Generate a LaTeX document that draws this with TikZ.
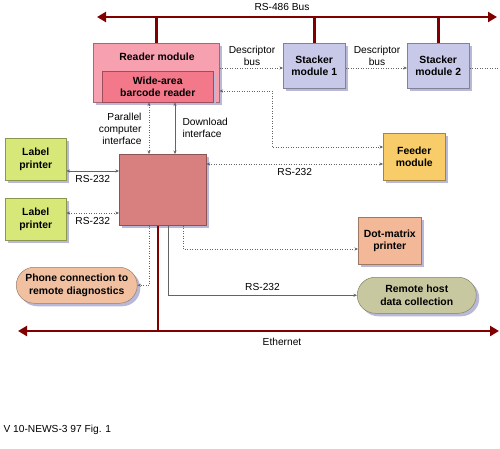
\documentclass[tikz,border=0pt]{standalone}
\usepackage{fontspec}
\setmainfont{Liberation Sans}
\usepackage{tikz}
\usetikzlibrary{arrows.meta,shadows}
\definecolor{busred}{RGB}{128,0,0}
\definecolor{shade}{RGB}{184,184,216}
\definecolor{readerpink}{RGB}{247,161,176}
\definecolor{barcodepink}{RGB}{242,120,138}
\definecolor{stackerblue}{RGB}{200,200,232}
\definecolor{feederyellow}{RGB}{248,204,104}
\definecolor{hostred}{RGB}{216,128,128}
\definecolor{labelgreen}{RGB}{216,232,120}
\definecolor{phonepeach}{RGB}{240,192,160}
\definecolor{dotpeach}{RGB}{242,184,152}
\definecolor{remoteolive}{RGB}{200,200,160}
\definecolor{linkgrey}{RGB}{100,100,100}

\begin{document}
\begin{tikzpicture}[x=1pt, y=-1pt, >={Stealth[length=3.5pt,width=3pt]},
    font=\fontsize{10.2}{12}\selectfont,
    modbox/.style={draw=#1!65!black, fill=#1, line width=.5pt, anchor=north west,
        inner sep=1pt, align=center, font=\fontsize{10.4}{12.5}\selectfont\bfseries,
        drop shadow={shadow xshift=3pt, shadow yshift=-3pt, fill=shade, opacity=1}},
    bus/.style={draw=busred, line width=2.6pt,
        {Triangle[length=9pt,width=10pt]}-{Triangle[length=9pt,width=10pt]}},
    drop/.style={draw=busred, line width=2.6pt},
    dotlink/.style={draw=linkgrey, line width=.5pt, dotted},
    plainlink/.style={draw=linkgrey, line width=.4pt}]

  \fill[white] (0,0) rectangle (500,448);
  \useasboundingbox (0,0) rectangle (500,448);

  \coordinate (rsL) at (97,17);
  \coordinate (rsR) at (497,17);
  \coordinate (ethL) at (18,331);
  \coordinate (ethR) at (499,331);
  \coordinate (dbus) at (0,68);
  \coordinate (dbusend) at (500,68);
  \coordinate (fdbend) at (272,91);
  \coordinate (fdrow) at (0,147);
  \coordinate (rsfdrow) at (0,164);
  \coordinate (lprowA) at (0,171);
  \coordinate (lprowB) at (0,213);
  \coordinate (dmrow) at (0,249);
  \coordinate (pcol) at (149,0);
  \coordinate (dcol) at (175,0);
  \coordinate (ecol) at (158,0);
  \coordinate (rcol) at (168,0);
  \coordinate (mcol) at (183,0);

  \node[modbox=readerpink, minimum width=126pt, minimum height=59pt] (reader) at (93,43) {};
  \node[modbox=barcodepink, minimum width=111pt, minimum height=31pt, drop shadow={opacity=0}] (barcode) at (102,71) {Wide-area\\barcode reader};
  \node[font=\fontsize{10.4}{12}\selectfont\bfseries] (readertitle) at (157,57) {Reader module};
  \node[modbox=stackerblue, minimum width=62pt, minimum height=45pt] (stackA) at (283,43) {Stacker\\module 1};
  \node[modbox=stackerblue, minimum width=62pt, minimum height=45pt] (stackB) at (407,43) {Stacker\\module 2};
  \node[modbox=feederyellow, minimum width=62pt, minimum height=47pt] (feeder) at (383,133) {Feeder\\module};
  \node[modbox=hostred, minimum width=87pt, minimum height=71pt] (comp) at (119,154) {};
  \node[modbox=labelgreen, minimum width=61pt, minimum height=42pt] (lpA) at (5,138) {Label\\printer};
  \node[modbox=labelgreen, minimum width=61pt, minimum height=42pt] (lpB) at (5,198) {Label\\printer};
  \node[modbox=dotpeach, minimum width=63pt, minimum height=47pt] (dm) at (358,217) {Dot-matrix\\printer};
  \node[modbox=phonepeach, minimum width=121pt, minimum height=36pt, rounded corners=18pt] (phone) at (16,267) {Phone connection to\\remote diagnostics};
  \node[modbox=remoteolive, minimum width=119pt, minimum height=36pt, rounded corners=18pt] (remote) at (357,277) {Remote host\\data collection};

  \draw[bus] (rsL) -- (rsR);
  \node (rslabel) at (282,7) {RS-486 Bus};
  \draw[drop] (reader.north) -- (reader.north |- rsL);
  \draw[drop] (stackA.north) -- (stackA.north |- rsL);
  \draw[drop] (stackB.north) -- (stackB.north |- rsL);

  \draw[bus] (ethL) -- (ethR);
  \node (ethlabel) at (282,342) {Ethernet};
  \draw[drop] (comp.south -| ecol) -- (ethL -| ecol);

  \draw[dotlink, ->] (reader.east |- dbus) -- (stackA.west |- dbus);
  \draw[dotlink, ->] (stackA.east |- dbus) -- (stackB.west |- dbus);
  \draw[dotlink] (stackB.east |- dbus) -- (dbusend);
  \node[align=center] (desclabelA) at (252,56) {Descriptor\\bus};
  \node[align=center] (desclabelB) at (377,56) {Descriptor\\bus};

  \draw[dotlink, <->] (reader.east |- fdbend) -- (fdbend) |- (feeder.west |- fdrow);
  \draw[dotlink, <->] (comp.east |- rsfdrow) -- (feeder.west |- rsfdrow)
      node[midway, below=1pt] {RS-232};

  \draw[dotlink, <->] (reader.south -| pcol) -- (comp.north -| pcol);
  \node[anchor=east, align=right] (pcilabel) at (145,129) {Parallel\\computer\\interface};
  \draw[plainlink, <->] (reader.south -| dcol) -- (comp.north -| dcol);
  \node[anchor=west, align=left] (dlilabel) at (179,128) {Download\\interface};

  \draw[plainlink, <->] (comp.west |- lprowA) -- (lpA.east |- lprowA)
      node[midway, below=1pt] {RS-232};
  \draw[dotlink, <->] (comp.west |- lprowB) -- (lpB.east |- lprowB)
      node[midway, below=1pt] {RS-232};

  \draw[dotlink, ->] (comp.south -| pcol) |- (phone.east);
  \draw[plainlink, ->] (comp.south -| rcol) |- (remote.west)
      node[pos=.75, above=1pt] {RS-232};
  \draw[dotlink, ->] (comp.south -| mcol) |- (dm.west |- dmrow);

  \node[anchor=west] (caption) at (0,430) {V 10-NEWS-3 97 Fig. 1};
\end{tikzpicture}
\end{document}
